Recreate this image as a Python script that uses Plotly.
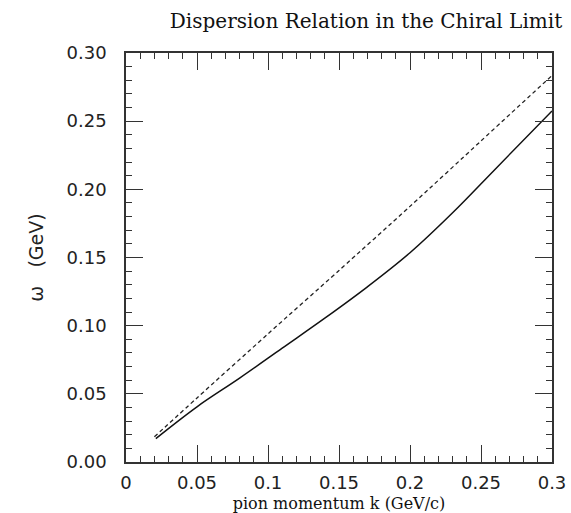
import plotly.graph_objects as go

# solid curve: computed dispersion relation
k_solid = [0.021, 0.05, 0.08, 0.11, 0.14, 0.17, 0.20, 0.23, 0.26, 0.30]
w_solid = [0.0172, 0.0405, 0.0615, 0.0835, 0.1055, 0.1285, 0.1535, 0.1828, 0.2148, 0.2575]

# dashed curve: free dispersion
k_dash = [0.020, 0.05, 0.10, 0.15, 0.20, 0.25, 0.30]
w_dash = [0.0185, 0.047, 0.094, 0.1405, 0.1875, 0.2355, 0.2835]

x_ticks = [0, 0.05, 0.1, 0.15, 0.2, 0.25, 0.3]
x_tick_labels = ["0", "0.05", "0.1", "0.15", "0.2", "0.25", "0.3"]
y_ticks = [0, 0.05, 0.10, 0.15, 0.20, 0.25, 0.30]
y_tick_labels = ["0.00", "0.05", "0.10", "0.15", "0.20", "0.25", "0.30"]

fig = go.Figure()
fig.add_trace(go.Scatter(x=k_dash, y=w_dash, mode="lines",
                         line=dict(color="#222", width=1.3, dash="4px,3px", shape="spline", smoothing=0.8),
                         showlegend=False))
fig.add_trace(go.Scatter(x=k_solid, y=w_solid, mode="lines",
                         line=dict(color="#111", width=1.5, shape="spline", smoothing=1.0),
                         showlegend=False))

axis_common = dict(
    showgrid=False, zeroline=False, showline=True, linecolor="#333", linewidth=1.5,
    mirror="ticks", ticks="inside", ticklen=17, tickwidth=1.2, tickcolor="#333",
    tickfont=dict(family="DejaVu Sans", size=18, color="#222"),
    automargin=False,
)

fig.update_xaxes(range=[0, 0.3], tickvals=x_ticks, ticktext=x_tick_labels,
                 minor=dict(dtick=0.01, ticks="inside", ticklen=6, tickwidth=1.2, tickcolor="#333"),
                 title=dict(text="pion momentum k (GeV/c)",
                            font=dict(family="DejaVu Serif", size=16, color="#111"), standoff=6),
                 ticklabelstandoff=4,
                 **axis_common)
fig.update_yaxes(range=[0, 0.3], tickvals=y_ticks, ticktext=y_tick_labels,
                 minor=dict(dtick=0.01, ticks="inside", ticklen=6, tickwidth=1.2, tickcolor="#333"),
                 title=dict(text="ω   (GeV)",
                            font=dict(family="DejaVu Sans", size=19, color="#222"), standoff=18),
                 ticklabelstandoff=14,
                 **axis_common)

fig.update_layout(
    width=571, height=513,
    margin=dict(l=126, r=19, t=53, b=51),
    paper_bgcolor="white", plot_bgcolor="white",
    title=dict(text="Dispersion Relation in the Chiral Limit", x=0.641, xanchor="center",
               y=0.96, yanchor="middle",
               font=dict(family="DejaVu Serif", size=20, color="#111")),
)

fig.write_html("out.html")
